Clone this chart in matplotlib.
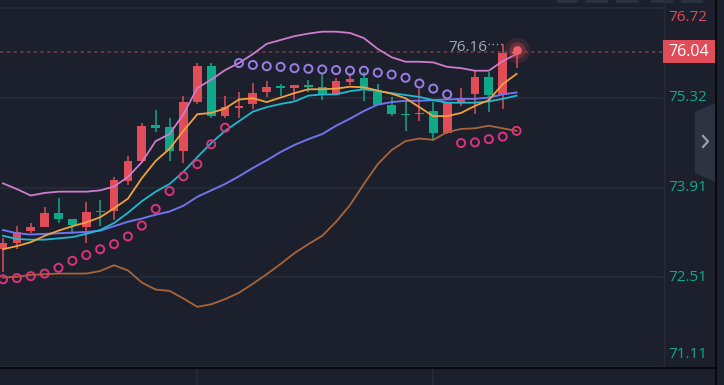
import matplotlib
matplotlib.use('Agg')
import matplotlib.pyplot as plt
import matplotlib.transforms as mtransforms
from matplotlib.patches import Rectangle, Polygon
from matplotlib.lines import Line2D

# candle data
opens = [72.95, 73.05, 73.24, 73.30, 73.52, 73.42, 73.30, 73.55, 73.55, 74.02,
         74.33, 74.89, 74.86, 74.49, 75.25, 75.81, 75.03, 75.17, 75.22, 75.40,
         75.49, 75.47, 75.50, 75.48, 75.38, 75.57, 75.62, 75.41, 75.20, 75.06,
         75.06, 75.11, 74.77, 75.23, 75.38, 75.64, 75.36, 76.00]
closes = [73.05, 73.22, 73.30, 73.52, 73.42, 73.33, 73.53, 73.53, 74.03, 74.33,
          74.88, 74.85, 74.49, 75.25, 75.81, 75.03, 75.17, 75.18, 75.39, 75.48,
          75.47, 75.51, 75.49, 75.36, 75.58, 75.61, 75.44, 75.21, 75.07, 75.05,
          75.08, 74.77, 75.24, 75.32, 75.64, 75.36, 76.01, 76.04]
highs = [73.13, 73.31, 73.36, 73.61, 73.75, 73.43, 73.69, 73.72, 74.08, 74.41,
         74.92, 75.13, 75.00, 75.35, 75.86, 75.86, 75.35, 75.41, 75.55, 75.58,
         75.54, 75.52, 75.60, 75.70, 75.63, 75.70, 75.72, 75.54, 75.33, 75.28,
         75.45, 75.25, 75.25, 75.47, 75.74, 75.72, 76.16, 76.07]
lows = [72.60, 72.95, 73.20, 73.29, 73.36, 73.19, 73.05, 73.31, 73.41, 73.95,
        74.30, 74.78, 74.33, 74.30, 75.22, 75.00, 75.00, 75.00, 75.14, 75.33,
        75.35, 75.28, 75.41, 75.29, 75.36, 75.51, 75.27, 75.20, 75.04, 74.80,
        74.96, 74.64, 74.75, 75.19, 75.06, 75.10, 75.14, 75.78]

# indicator lines
ma_orange = [72.95, 73.00, 73.06, 73.16, 73.24, 73.31, 73.37, 73.45, 73.59, 73.74,
             74.06, 74.33, 74.52, 74.80, 75.06, 75.08, 75.15, 75.29, 75.31, 75.25,
             75.32, 75.39, 75.45, 75.45, 75.46, 75.49, 75.48, 75.43, 75.38, 75.31,
             75.17, 75.03, 75.03, 75.08, 75.19, 75.28, 75.53, 75.69]
ma_cyan = [73.16, 73.11, 73.10, 73.10, 73.12, 73.14, 73.19, 73.25, 73.36, 73.52,
           73.70, 73.85, 73.97, 74.16, 74.39, 74.61, 74.80, 74.95, 75.10, 75.17,
           75.22, 75.26, 75.35, 75.37, 75.37, 75.42, 75.45, 75.42, 75.39, 75.36,
           75.33, 75.28, 75.24, 75.24, 75.24, 75.26, 75.30, 75.35]
ma_purple = [73.25, 73.20, 73.18, 73.19, 73.20, 73.21, 73.22, 73.24, 73.31, 73.38,
             73.43, 73.49, 73.54, 73.63, 73.77, 73.87, 73.97, 74.09, 74.22, 74.34,
             74.47, 74.58, 74.67, 74.75, 74.88, 74.99, 75.11, 75.21, 75.25, 75.27,
             75.27, 75.28, 75.29, 75.30, 75.30, 75.32, 75.37, 75.40]
boll_upper = [73.98, 73.89, 73.79, 73.83, 73.85, 73.85, 73.85, 73.87, 73.93, 74.08,
              74.31, 74.64, 74.75, 75.06, 75.47, 75.60, 75.75, 75.86, 76.00, 76.16,
              76.22, 76.28, 76.32, 76.35, 76.35, 76.33, 76.25, 76.08, 75.95, 75.88,
              75.88, 75.87, 75.80, 75.78, 75.74, 75.74, 75.89, 76.00]
boll_lower = [72.51, 72.52, 72.55, 72.56, 72.57, 72.57, 72.57, 72.61, 72.70, 72.62,
              72.43, 72.32, 72.30, 72.18, 72.05, 72.09, 72.17, 72.27, 72.41, 72.56,
              72.72, 72.89, 73.03, 73.16, 73.38, 73.64, 73.97, 74.28, 74.50, 74.64,
              74.68, 74.66, 74.78, 74.83, 74.84, 74.88, 74.84, 74.80]
sar = [72.48, 72.50, 72.53, 72.57, 72.66, 72.77, 72.86, 72.95, 73.03, 73.15,
       73.32, 73.58, 73.86, 74.09, 74.28, 74.59, 74.85, 75.86, 75.83, 75.81,
       75.80, 75.78, 75.77, 75.76, 75.75, 75.74, 75.74, 75.71, 75.68, 75.63,
       75.54, 75.46, 75.37, 74.61, 74.62, 74.67, 74.71, 74.80]

price_ticks = [76.72, 75.32, 73.91, 72.51, 71.11]
last_price = 76.04
max_price = 76.16
date_lines = [14, 31]

BG = '#1b202c'
GRID = '#262d3a'
RED = '#e04c58'
GREEN = '#0fa98a'
W, H = 724, 385

fig = plt.figure(figsize=(W / 100, H / 100), dpi=100)
fig.patch.set_facecolor(BG)

def fx(x):
    return x / W

def fy(y):
    return 1 - y / H

ax = fig.add_axes([0, fy(367), fx(663), 367 / H])
ax.set_facecolor(BG)
for s in ax.spines.values():
    s.set_visible(False)
ax.set_xticks([])
ax.set_yticks([])
ax.set_xlim(-0.216, 47.55)
ax.set_ylim(71.11, 76.845)

# grid
for p in price_ticks:
    ax.axhline(p, color=GRID, lw=1.2, zorder=0)
vtrans = mtransforms.blended_transform_factory(ax.transData, fig.transFigure)
for d in date_lines:
    fig.add_artist(Line2D([d, d], [0, 1], transform=vtrans, color=GRID, lw=1.2, zorder=0))

# candles
xs = list(range(len(opens)))
for i in xs:
    o, c = opens[i], closes[i]
    col = RED if c >= o else GREEN
    ax.vlines(i, lows[i], highs[i], color=col, lw=1.1, zorder=3)
    h = max(abs(c - o), 0.028)
    ax.bar(i, h, bottom=min(o, c) - (h - abs(c - o)) / 2, width=0.63, color=col, zorder=3, lw=0)

# indicator lines
ax.plot(xs, boll_upper, color='#cf7ccc', lw=1.3, zorder=4)
ax.plot(xs, boll_lower, color='#a8653a', lw=1.3, zorder=4)
ax.plot(xs, ma_purple, color='#6f73ee', lw=1.4, zorder=4)
ax.plot(xs, ma_cyan, color='#20b9cf', lw=1.3, zorder=4)
ax.plot(xs, ma_orange, color='#f2a23c', lw=1.3, zorder=4)

# parabolic SAR
sar_cols = ['#9a7ee6' if sar[i] > closes[i] else '#de327c' for i in xs]
ax.scatter(xs, sar, s=34, facecolors='none', edgecolors=sar_cols, linewidths=1.4, zorder=5)

# current price line and glow
ax.axhline(last_price, color='#7a3e4a', lw=1.1, ls=(0, (2.2, 2.2)), zorder=2)
last = len(opens) - 1
ax.scatter([last], [closes[last] + 0.02], s=330, color=RED, alpha=0.15, lw=0, zorder=6)
ax.scatter([last], [closes[last] + 0.02], s=140, color=RED, alpha=0.3, lw=0, zorder=6)
ax.scatter([last], [closes[last] + 0.02], s=40, color='#f0606a', lw=0, zorder=7)

# max price marker
imax = highs.index(max(highs))
ax.plot([imax - 1.05, imax - 0.05], [max_price, max_price], color='#9aa0aa', lw=1.0,
        ls=(0, (1, 2)), zorder=6)
ax.text(imax - 1.12, max_price - 0.05, f'{max_price:.2f}', color='#a3a8b2', fontsize=11,
        family='Open Sans', ha='right', va='center', zorder=6)

# right price axis
fig.add_artist(Line2D([fx(663.5), fx(663.5)], [fy(367), 1], color=GRID, lw=1.0))
fig.add_artist(Line2D([0, fx(715)], [fy(367.5), fy(367.5)], color='#07090d', lw=1.5))
fig.add_artist(Line2D([fx(715.5), fx(715.5)], [0, 1], color='#07090d', lw=1.5))
ptrans = mtransforms.blended_transform_factory(fig.transFigure, ax.transData)
for k, p in enumerate(price_ticks):
    col = RED if p > last_price else GREEN
    off = 0
    if k == 0:
        off = -10
    if k == len(price_ticks) - 1:
        off = 12
    ax.annotate(f'{p:.2f}', xy=(fx(688), p), xycoords=ptrans, xytext=(0, off * 0.72),
                textcoords='offset points', color=col, fontsize=11, family='Open Sans',
                ha='center', va='center', annotation_clip=False)

box_h = 11.7 / 64
fig.add_artist(Rectangle((fx(663), last_price - box_h), fx(715) - fx(663), 2 * box_h,
                         transform=ptrans, color=RED, lw=0, zorder=2))
fig.text(fx(688.5), last_price, f'{last_price:.2f}', transform=ptrans, color='white',
         fontsize=11.5, family='Open Sans', ha='center', va='center', zorder=3)

# side handle and top tabs
fig.add_artist(Polygon([(fx(695), fy(112)), (fx(715), fy(103)), (fx(715), fy(182)),
                        (fx(695), fy(173))], closed=True, color='#2d3340', lw=0))
fig.add_artist(Line2D([fx(703), fx(708), fx(703)], [fy(136), fy(141.5), fy(147)],
                      color='#9aa0ab', lw=1.6))
for x0, x1 in [(557, 578), (586, 608), (616, 638), (651, 673), (681, 703)]:
    fig.add_artist(Rectangle((fx(x0), fy(2.5)), fx(x1) - fx(x0), 2.5 / H, color='#2a303c', lw=0))

fig.savefig('out.png', dpi=100, facecolor=BG)
